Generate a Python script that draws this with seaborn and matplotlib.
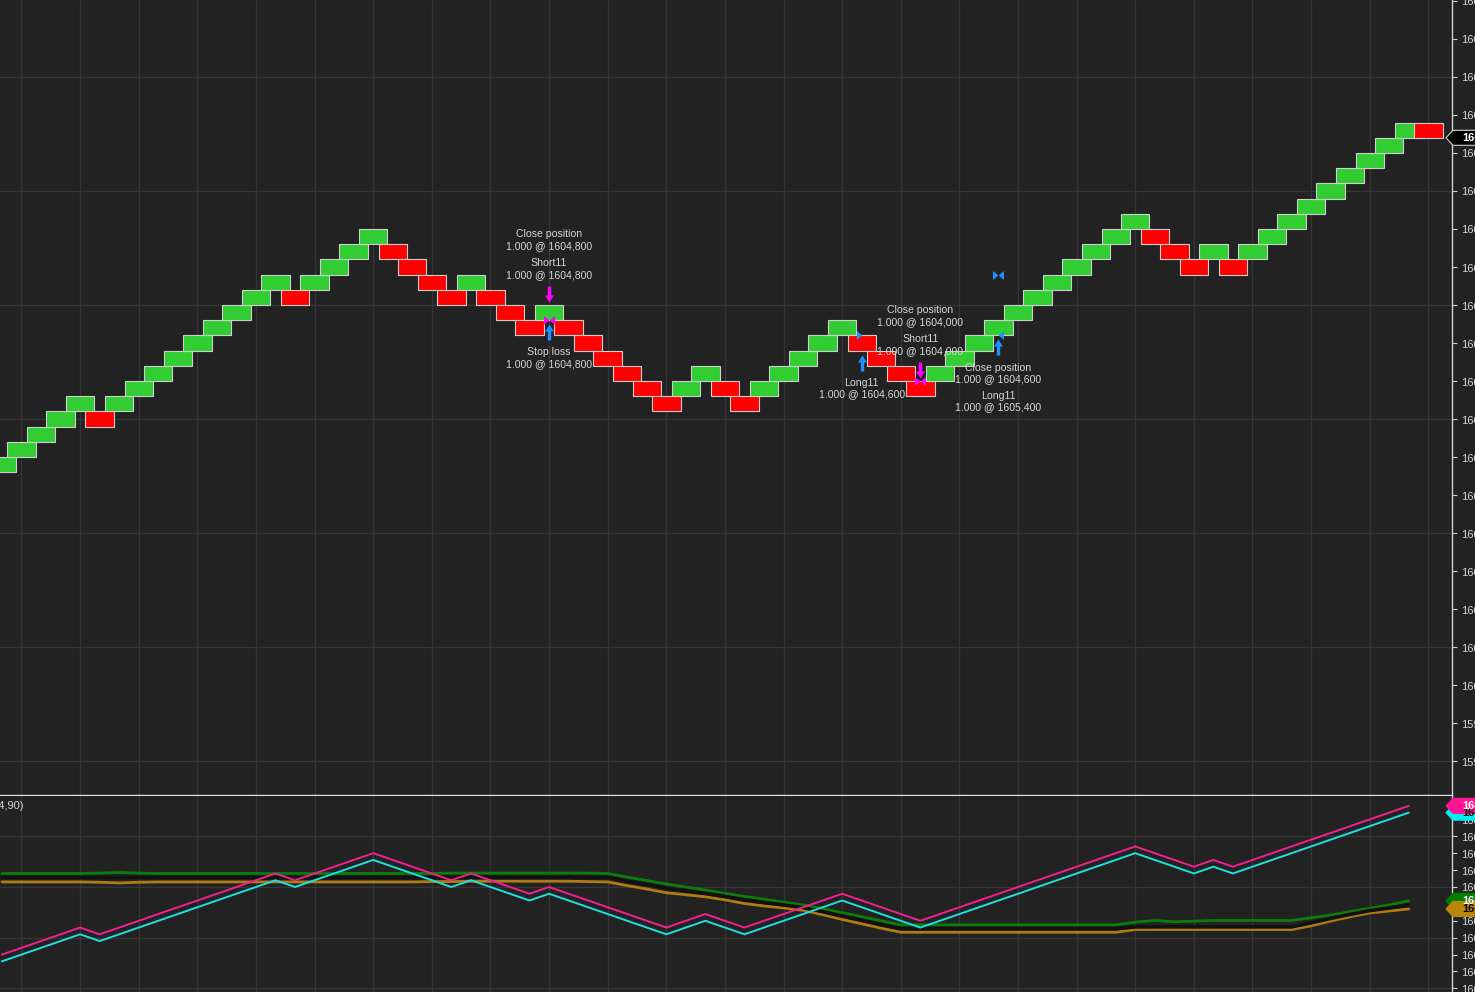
import matplotlib
matplotlib.use("Agg")
import matplotlib.pyplot as plt
import numpy as np
import pandas as pd
import seaborn as sns
from matplotlib.path import Path
from matplotlib.patches import Polygon
from matplotlib.ticker import MultipleLocator, FuncFormatter

# ---------------- data ----------------
bars = list(range(-1, 73))

brick_open = [
    1602.8, 1603.0, 1603.2, 1603.4, 1603.6, 1603.6, 1603.6, 1603.8, 1604.0, 1604.2,
    1604.4, 1604.6, 1604.8, 1605.0, 1605.2, 1605.2, 1605.2, 1605.4, 1605.6, 1605.8,
    1605.8, 1605.6, 1605.4, 1605.2, 1605.2, 1605.2, 1605.0, 1604.8, 1604.8, 1604.8,
    1604.6, 1604.4, 1604.2, 1604.0, 1603.8, 1603.8, 1604.0, 1604.0, 1603.8, 1603.8,
    1604.0, 1604.2, 1604.4, 1604.6, 1604.6, 1604.4, 1604.2, 1604.0, 1604.0, 1604.2,
    1604.4, 1604.6, 1604.8, 1605.0, 1605.2, 1605.4, 1605.6, 1605.8, 1606.0, 1606.0,
    1605.8, 1605.6, 1605.6, 1605.6, 1605.6, 1605.8, 1606.0, 1606.2, 1606.4, 1606.6,
    1606.8, 1607.0, 1607.2, 1607.4]
brick_close = [
    1603.0, 1603.2, 1603.4, 1603.6, 1603.8, 1603.4, 1603.8, 1604.0, 1604.2, 1604.4,
    1604.6, 1604.8, 1605.0, 1605.2, 1605.4, 1605.0, 1605.4, 1605.6, 1605.8, 1606.0,
    1605.6, 1605.4, 1605.2, 1605.0, 1605.4, 1605.0, 1604.8, 1604.6, 1605.0, 1604.6,
    1604.4, 1604.2, 1604.0, 1603.8, 1603.6, 1604.0, 1604.2, 1603.8, 1603.6, 1604.0,
    1604.2, 1604.4, 1604.6, 1604.8, 1604.4, 1604.2, 1604.0, 1603.8, 1604.2, 1604.4,
    1604.6, 1604.8, 1605.0, 1605.2, 1605.4, 1605.6, 1605.8, 1606.0, 1606.2, 1605.8,
    1605.6, 1605.4, 1605.8, 1605.4, 1605.8, 1606.0, 1606.2, 1606.4, 1606.6, 1606.8,
    1607.0, 1607.2, 1607.4, 1607.2]

# channel indicator (bars -1 .. 71)
band_upper = [
    1605.40, 1605.40, 1605.40, 1605.40, 1605.40, 1605.41, 1605.43, 1605.41, 1605.40, 1605.40,
    1605.40, 1605.40, 1605.40, 1605.40, 1605.40, 1605.40, 1605.40, 1605.40, 1605.40, 1605.40,
    1605.40, 1605.40, 1605.40, 1605.41, 1605.41, 1605.41, 1605.41, 1605.41, 1605.41, 1605.41,
    1605.41, 1605.40, 1605.29, 1605.19, 1605.09, 1605.00, 1604.91, 1604.81, 1604.72, 1604.64,
    1604.55, 1604.47, 1604.36, 1604.24, 1604.12, 1604.00, 1603.88, 1603.88, 1603.88, 1603.88,
    1603.88, 1603.88, 1603.88, 1603.88, 1603.88, 1603.88, 1603.88, 1603.88, 1603.96, 1604.01,
    1603.97, 1603.99, 1604.01, 1604.01, 1604.01, 1604.01, 1604.01, 1604.09, 1604.17, 1604.27,
    1604.37, 1604.47, 1604.59]
band_mid = [
    1605.28, 1605.28, 1605.28, 1605.28, 1605.28, 1605.28, 1605.28, 1605.28, 1605.28, 1605.28,
    1605.28, 1605.28, 1605.28, 1605.28, 1605.28, 1605.28, 1605.28, 1605.28, 1605.28, 1605.28,
    1605.28, 1605.28, 1605.28, 1605.28, 1605.29, 1605.29, 1605.29, 1605.29, 1605.29, 1605.29,
    1605.28, 1605.28, 1605.17, 1605.07, 1604.96, 1604.89, 1604.81, 1604.72, 1604.62, 1604.54,
    1604.47, 1604.39, 1604.27, 1604.14, 1604.02, 1603.89, 1603.77, 1603.77, 1603.77, 1603.77,
    1603.77, 1603.77, 1603.77, 1603.77, 1603.77, 1603.77, 1603.77, 1603.77, 1603.82, 1603.82,
    1603.82, 1603.82, 1603.82, 1603.82, 1603.82, 1603.82, 1603.82, 1603.94, 1604.07, 1604.19,
    1604.30, 1604.38, 1604.47]
band_lower = [
    1605.15, 1605.15, 1605.15, 1605.15, 1605.15, 1605.14, 1605.12, 1605.14, 1605.15, 1605.15,
    1605.15, 1605.15, 1605.15, 1605.15, 1605.15, 1605.15, 1605.15, 1605.15, 1605.15, 1605.15,
    1605.15, 1605.15, 1605.16, 1605.16, 1605.17, 1605.17, 1605.17, 1605.17, 1605.17, 1605.17,
    1605.16, 1605.15, 1605.04, 1604.94, 1604.83, 1604.77, 1604.71, 1604.62, 1604.51, 1604.44,
    1604.38, 1604.31, 1604.18, 1604.04, 1603.91, 1603.78, 1603.66, 1603.66, 1603.66, 1603.66,
    1603.66, 1603.66, 1603.66, 1603.66, 1603.66, 1603.66, 1603.66, 1603.66, 1603.74, 1603.74,
    1603.74, 1603.74, 1603.74, 1603.74, 1603.74, 1603.74, 1603.74, 1603.85, 1603.99, 1604.12,
    1604.23, 1604.29, 1604.35]

# executions (markers on the price level)
exec_bars = [27, 43, 46, 50, 50]
exec_prices = [1604.8, 1604.6, 1604.0, 1604.6, 1605.4]
exec_kinds = ["both", "entry", "both", "exit", "both"]
exec_colors = ["#ff00ff", "#1e90ff", "#ff00ff", "#1e90ff", "#1e90ff"]

# signal arrows
arrow_bars = [27, 27, 43, 46, 50]
arrow_dirs = ["down", "up", "up", "down", "up"]

# signal labels (stacked away from the bar)
label_bars = [27, 27, 27, 46, 46, 43, 50, 50]
label_dirs = ["down", "down", "up", "down", "down", "up", "up", "up"]
label_texts = ["Short11\n1.000 @ 1604,800", "Close position\n1.000 @ 1604,800",
               "Stop loss\n1.000 @ 1604,800",
               "Short11\n1.000 @ 1604,000", "Close position\n1.000 @ 1604,000",
               "Long11\n1.000 @ 1604,600",
               "Close position\n1.000 @ 1604,600", "Long11\n1.000 @ 1605,400"]

indicator_name = "PriceChannel(14,90)"

# ---------------- style ----------------
BG = "#222222"
GRID = "#363636"
AXC = "#cfcfcf"
TXT = "#d6d6d6"

sns.set_theme(style="dark", rc={"axes.facecolor": BG, "figure.facecolor": BG,
                                "savefig.facecolor": BG})
plt.rcParams["font.family"] = ["Liberation Sans", "DejaVu Sans"]

W, H = 1475, 992
PX = 0.72  # points per pixel at dpi 100
fig = plt.figure(figsize=(W / 100, H / 100), dpi=100)
ax = fig.add_axes([0, (H - 795) / H, 1452 / W, 795 / H])
ax2 = fig.add_axes([0, 0, 1452 / W, 196 / H])

ax.set_ylim(1598.553, 1609.013)
ax2.set_ylim(1601.893, 1607.692)

fmt = FuncFormatter(lambda v, p: f"{v:.2f}".replace(".", ","))
for a in (ax, ax2):
    a.set_facecolor(BG)
    a.set_xlim(-1.10, 73.21)
    a.xaxis.set_major_locator(MultipleLocator(3))
    a.tick_params(axis="x", which="both", length=0, labelbottom=False, bottom=False)
    a.yaxis.tick_right()
    a.yaxis.set_major_locator(MultipleLocator(1.5))
    a.yaxis.set_minor_locator(MultipleLocator(0.5))
    a.yaxis.set_major_formatter(fmt)
    a.yaxis.set_minor_formatter(fmt)
    a.tick_params(axis="y", which="both", right=True, left=False, labelright=True,
                  labelleft=False, length=3.6, width=0.8, color=AXC,
                  labelcolor=TXT, labelsize=8, pad=3, direction="out")
    a.grid(True, which="major", color=GRID, linewidth=1.0)
    a.grid(False, which="minor")
    a.set_axisbelow(True)
    for s in a.spines.values():
        s.set_visible(False)
    a.spines["right"].set_visible(True)
    a.spines["right"].set_color(AXC)
    a.spines["right"].set_linewidth(1.0)
    a.set_xlabel("")
    a.set_ylabel("")
ax.spines["bottom"].set_visible(True)
ax.spines["bottom"].set_color("#dedede")
ax.spines["bottom"].set_linewidth(1.0)

# ---------------- renko bricks ----------------
o = np.array(brick_open)
c = np.array(brick_close)
bottoms = np.minimum(o, c)
heights = np.abs(c - o)
colors = ["#32cd32" if cc > oo else "#ff0000" for oo, cc in zip(o, c)]
ax.bar(bars, heights, bottom=bottoms, width=1.453, color=colors,
       edgecolor="#cfcfcf", linewidth=0.8, zorder=3)

highs = dict(zip(bars, np.maximum(o, c)))
lows = dict(zip(bars, np.minimum(o, c)))

# ---------------- markers ----------------
def arrow_path(direction):
    v = [(0, 3), (-4.5, 10), (-1.7, 10), (-1.7, 19), (1.7, 19), (1.7, 10), (4.5, 10), (0, 3)]
    if direction == "up":
        v = [(x, -(y + 1)) for x, y in v]
    return Path(v, [Path.MOVETO] + [Path.LINETO] * 6 + [Path.CLOSEPOLY])

def bow_path(kind):
    left = [(-5.5, 4.5), (0, 0), (-5.5, -4.5), (-5.5, 4.5)]
    right = [(5.5, 4.5), (0, 0), (5.5, -4.5), (5.5, 4.5)]
    codes = [Path.MOVETO, Path.LINETO, Path.LINETO, Path.CLOSEPOLY]
    if kind == "entry":
        return Path(left, codes)
    if kind == "exit":
        return Path(right, codes)
    return Path(left + right, codes + codes)

def msize(path):
    return 2 * np.max(np.abs(path.vertices)) * PX

for b, d in zip(arrow_bars, arrow_dirs):
    p = arrow_path(d)
    y = highs[b] if d == "down" else lows[b]
    col = "#ff00ff" if d == "down" else "#1e90ff"
    ax.plot([b], [y], marker=p, markersize=msize(p), color=col,
            markeredgewidth=0, linestyle="none", zorder=6)

for b, pr, k, col in zip(exec_bars, exec_prices, exec_kinds, exec_colors):
    p = bow_path(k)
    ax.plot([b], [pr], marker=p, markersize=msize(p), color=col,
            markeredgewidth=0, linestyle="none", zorder=6)

stack = {}
for b, d, t in zip(label_bars, label_dirs, label_texts):
    i = stack.get((b, d), 0)
    stack[(b, d)] = i + 1
    if d == "down":
        y, off = highs[b], (36 + 29 * i) * PX
    else:
        y, off = lows[b], -(38 + 28 * i) * PX
    ax.annotate(t, xy=(b, y), xytext=(0, off), textcoords="offset points",
                ha="center", va="center", fontsize=7.6, color=TXT,
                linespacing=1.2, zorder=7)

# ---------------- lower panel ----------------
ind_bars = bars[:-1]
df = pd.DataFrame({
    "bar": ind_bars,
    "high": [highs[b] for b in ind_bars],
    "low": [lows[b] for b in ind_bars],
    "upper": band_upper,
    "mid": band_mid,
    "lower": band_lower,
})
sns.lineplot(data=df, x="bar", y="upper", color="#0b7d0b", linewidth=2.0, ax=ax2, zorder=3)
sns.lineplot(data=df, x="bar", y="lower", color="#b07a14", linewidth=2.0, ax=ax2, zorder=3)
sns.lineplot(data=df, x="bar", y="mid", color="#111111", linewidth=2.6, ax=ax2, zorder=3)
sns.lineplot(data=df, x="bar", y="low", color="#22dede", linewidth=1.4, ax=ax2, zorder=4)
sns.lineplot(data=df, x="bar", y="high", color="#f0208e", linewidth=1.4, ax=ax2, zorder=4)
ax2.set_xlabel("")
ax2.set_ylabel("")

fig.text(24 / W, 1 - 806 / H, indicator_name, ha="right", va="center",
         fontsize=8, color=TXT)

# ---------------- price tags on the axis ----------------
def tag(a, value, ppu, fc, ec, tc, text):
    tr = a.get_yaxis_transform()
    wpx = 1452.0
    pts = [(-6, 0), (1, 7.5), (40, 7.5), (40, -7.5), (1, -7.5)]
    verts = [(1 + dx / wpx, value + dy / ppu) for dx, dy in pts]
    poly = Polygon(verts, closed=True, transform=tr, facecolor=fc, edgecolor=ec,
                   linewidth=0.8, clip_on=False, zorder=10)
    a.add_patch(poly)
    a.text(1 + 10 / wpx, value, text, transform=tr, ha="left", va="center",
           fontsize=8, fontweight="bold", color=tc, clip_on=False, zorder=11)

last = len(ind_bars) - 1
tag(ax, brick_close[-1], 76.0, "#000000", "#cfcfcf", "#ffffff",
    fmt(brick_close[-1], 0))
tag(ax2, df["low"].iloc[last], 33.8, "#00f0f0", "#00f0f0", "#000000",
    fmt(df["low"].iloc[last], 0))
tag(ax2, df["high"].iloc[last], 33.8, "#ff1493", "#ff1493", "#ffffff",
    fmt(df["high"].iloc[last], 0))
tag(ax2, band_upper[-1], 33.8, "#008000", "#008000", "#ffffff", fmt(band_upper[-1], 0))
tag(ax2, band_lower[-1], 33.8, "#b8860b", "#b8860b", "#000000", fmt(band_lower[-1], 0))

fig.savefig("out.png", dpi=100, facecolor=BG)
